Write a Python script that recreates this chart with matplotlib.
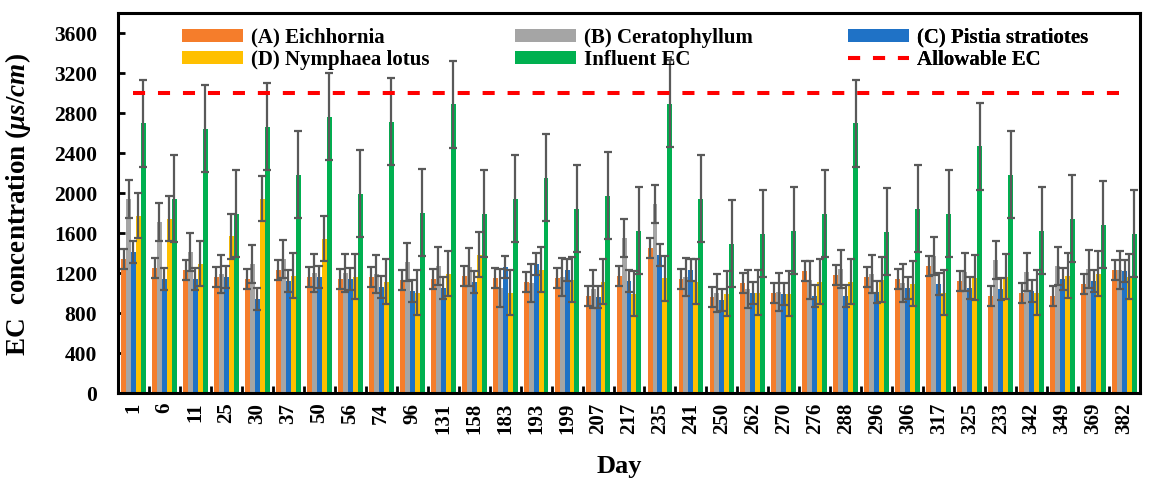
import matplotlib
matplotlib.use('Agg')
import matplotlib.pyplot as plt
from matplotlib.lines import Line2D
import numpy as np

plt.rcParams['font.family'] = 'Liberation Serif'
plt.rcParams['font.weight'] = 'bold'
plt.rcParams['mathtext.fontset'] = 'custom'
plt.rcParams['mathtext.it'] = 'Liberation Serif:italic:bold'
plt.rcParams['mathtext.rm'] = 'Liberation Serif:bold'

# Sampling days
days = ['1', '6', '11', '25', '30', '37', '50', '56', '74', '96', '131', '158', '183',
        '193', '199', '207', '217', '235', '241', '250', '262', '270', '276', '288',
        '296', '306', '317', '325', '233', '342', '349', '369', '382']

# EC concentration (us/cm) per plant
eichhornia = [1345, 1255, 1230, 1165, 1145, 1230, 1160, 1145, 1165, 1135, 1145,
              1175, 1155, 1110, 1150, 975, 1170, 1450, 1145, 965, 1100, 1005,
              1225, 1185, 1165, 1145, 1275, 1125, 975, 1005, 975, 1095, 1235]
ceratophyllum = [1945, 1715, 1415, 1195, 1295, 1345, 1200, 1200, 1195, 1315, 1270,
                 1260, 1050, 1100, 1160, 1045, 1555, 1895, 1160, 1005, 1045, 1010,
                 1130, 1245, 1195, 1100, 1375, 1210, 1335, 1210, 1270, 1245, 1235]
pistia = [1415, 1145, 1145, 1165, 945, 1125, 1165, 1145, 1060, 1025, 1050,
          1115, 1260, 1295, 1235, 965, 1125, 1385, 1235, 935, 1005, 995,
          975, 975, 1010, 1050, 1095, 1055, 1045, 1020, 1145, 1125, 1225]
nymphaea = [1775, 1745, 1295, 1570, 1945, 1175, 1545, 1165, 1115, 1005, 1195,
            1385, 1005, 1235, 1135, 1115, 995, 1150, 1115, 995, 1005, 995,
            1115, 1115, 1135, 1095, 1005, 1155, 1165, 1005, 1175, 1195, 1165]
influent = [2700, 1945, 2645, 1795, 2665, 2185, 2765, 1995, 2715, 1805, 2890,
            1795, 1945, 2155, 1845, 1975, 1625, 2895, 1945, 1495, 1595, 1625,
            1795, 2700, 1615, 1845, 1795, 2470, 2185, 1625, 1745, 1685, 1595]
allowable = [3000] * len(days)

# standard deviations
err_a = [100] * len(days)
err_b = [190] * len(days)
err_c = [110] * len(days)
err_d = [225] * len(days)
err_g = [435] * len(days)

series = [
    ('(A) Eichhornia', eichhornia, err_a, '#F57D2B'),
    ('(B) Ceratophyllum', ceratophyllum, err_b, '#A5A5A5'),
    ('(C) Pistia stratiotes', pistia, err_c, '#1F72C6'),
    ('(D) Nymphaea lotus', nymphaea, err_d, '#FFC000'),
    ('Influent EC', influent, err_g, '#00B050'),
]

fig = plt.figure(figsize=(11.5, 4.79), dpi=100)
ax = fig.add_axes([0.1026, 0.1795, 0.8887, 0.793])

x = np.arange(len(days))
w = 0.16
handles = []
for i, (name, vals, err, col) in enumerate(series):
    pos = x + (i - 2) * w
    b = ax.bar(pos, vals, w, color=col, label=name, zorder=2)
    ax.errorbar(pos, vals, yerr=err, fmt='none', ecolor='#595959', elinewidth=1.6,
                capsize=3.2, capthick=1.6, zorder=3)
    handles.append(b)

line, = ax.plot(x, allowable, '--', color='#FF0000', lw=2.9, dashes=(3, 3.2),
                label='Allowable EC', zorder=4)
handles.append(line)

ax.set_xlim(-0.5, len(days) - 0.5)
ax.set_ylim(0, 3800)
ax.set_yticks(np.arange(0, 3601, 400))
ax.set_xticks(x)
ax.set_xticklabels(days, rotation=90, fontsize=15, fontweight='bold')
ax.set_xticks(np.arange(0.5, len(days) - 1, 1), minor=True)
ax.tick_params(axis='x', which='major', length=0, pad=7)
ax.tick_params(axis='x', which='minor', direction='in', length=5, width=2)
ax.tick_params(axis='y', direction='in', length=5, width=2, labelsize=15.5, pad=15)
for lab in ax.get_yticklabels():
    lab.set_fontweight('bold')
for s in ax.spines.values():
    s.set_linewidth(2.2)

ax.set_xlabel('Day', fontsize=19, fontweight='bold')
ax.xaxis.set_label_coords(0.491, -0.163)
ax.set_ylabel(r'EC  concentration ($\mu s/cm$)', fontsize=19.5, fontweight='bold')
ax.yaxis.set_label_coords(-0.083, 0.497)

# legend laid out as three columns of two entries
legend_cols = [(0.0626, [0, 3]), (0.3885, [1, 4]), (0.7143, [2, 5])]
for xa, idx in legend_cols:
    hs = []
    for k in idx:
        h = handles[k]
        if isinstance(h, Line2D):
            hs.append(Line2D([], [], color='#FF0000', lw=2.9, dashes=(3, 3.2)))
        else:
            hs.append(h)
    leg = ax.legend(hs, [handles[k].get_label() for k in idx], loc='upper left',
                    bbox_to_anchor=(xa, 0.962), frameon=False, borderpad=0, borderaxespad=0,
                    prop={'family': 'Liberation Serif', 'weight': 'bold', 'size': 15},
                    handlelength=2.95, handleheight=0.55, labelspacing=0.1,
                    handletextpad=0.35)
    ax.add_artist(leg)

fig.savefig('out.png', dpi=100)
